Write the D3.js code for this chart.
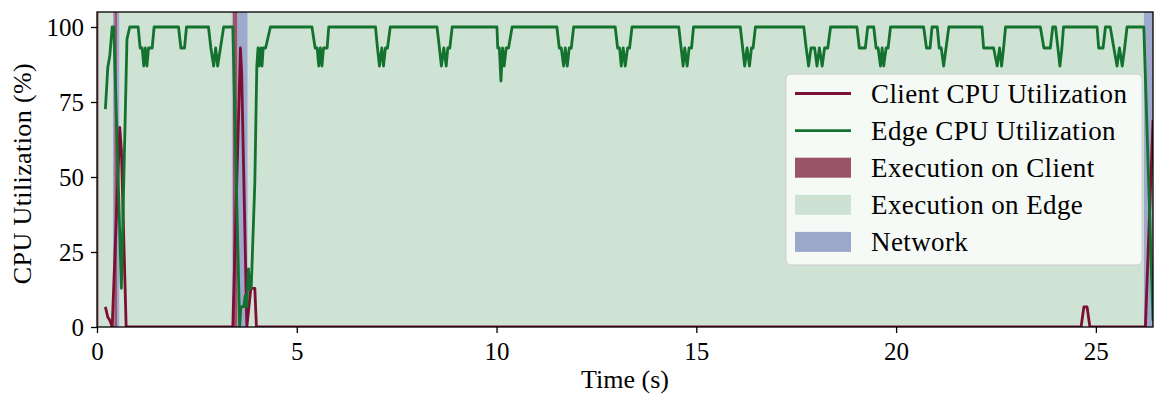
<!DOCTYPE html>
<html>
<head>
<meta charset="utf-8">
<script src="https://cdn.jsdelivr.net/npm/d3@7"></script>
<style>
  body { margin: 0; background: #fff; }
  svg text { font-family: "Liberation Serif", "DejaVu Serif", serif; fill: #000; }
</style>
</head>
<body>
<div id="chart"></div>
<script>
// time in seconds, utilization in %
var clientCpu = [
    [0.21, 6.7], [0.27, 3.3], [0.33, 2], [0.38, 0], [0.57, 66.5], [0.61, 59], [0.73, 0],
    [3.40, 0], [3.59, 93], [3.62, 85], [3.75, 0], [3.85, 12.9], [3.95, 12.9], [3.99, 0],
    [24.63, 0], [24.70, 6.7], [24.78, 6.7], [24.85, 0], [26.24, 0], [26.43, 69]
];

var edgeCpu = [
    [0.21, 72.6], [0.27, 86.5], [0.32, 90.4], [0.38, 100], [0.42, 100], [0.61, 12.9], [0.75, 96], [0.82, 100],
    [1.03, 100], [1.08, 93], [1.13, 93], [1.17, 87], [1.21, 93], [1.25, 87], [1.29, 93], [1.38, 93], [1.43, 100],
    [2.04, 100], [2.10, 93], [2.19, 93], [2.24, 100],
    [2.79, 100], [2.85, 93], [2.92, 87], [2.97, 93], [3.02, 87], [3.09, 93], [3.17, 100],
    [3.40, 100], [3.57, 0], [3.60, 6.7], [3.67, 6.7], [3.71, 10.5], [3.75, 6.7], [3.79, 19.4], [3.82, 12.9],
    [3.86, 13], [3.95, 48], [4.00, 87], [4.03, 93], [4.06, 87], [4.10, 93], [4.13, 87], [4.16, 93], [4.22, 93], [4.34, 100],
    [5.38, 100], [5.46, 93], [5.51, 93], [5.55, 87], [5.59, 93], [5.63, 87], [5.67, 93], [5.76, 93], [5.80, 100],
    [6.97, 100], [7.02, 93], [7.07, 87], [7.13, 93], [7.17, 87], [7.22, 93], [7.27, 93], [7.34, 100],
    [8.51, 100], [8.57, 93], [8.62, 87], [8.68, 93], [8.74, 87], [8.78, 93], [8.83, 93], [8.89, 100],
    [10.01, 100], [10.03, 93], [10.07, 93], [10.11, 82], [10.15, 93], [10.19, 87], [10.24, 93], [10.30, 93], [10.39, 100],
    [11.51, 100], [11.57, 93], [11.62, 93], [11.68, 87], [11.72, 93], [11.77, 87], [11.82, 93], [11.87, 93], [11.93, 100],
    [12.97, 100], [13.03, 93], [13.08, 93], [13.12, 87], [13.17, 93], [13.22, 87], [13.28, 93], [13.33, 93], [13.39, 100],
    [14.56, 100], [14.62, 93], [14.67, 87], [14.71, 93], [14.77, 87], [14.82, 93], [14.88, 93], [14.93, 100],
    [16.10, 100], [16.16, 93], [16.21, 87], [16.27, 93], [16.33, 87], [16.38, 93], [16.42, 93], [16.48, 100],
    [17.69, 100], [17.75, 93], [17.81, 87], [17.87, 93], [17.96, 93], [18.02, 87], [18.08, 93], [18.15, 87],
    [18.21, 93], [18.29, 93], [18.36, 100],
    [19.02, 100], [19.08, 93], [19.23, 93], [19.29, 100],
    [19.44, 100], [19.50, 93], [19.55, 93], [19.61, 87], [19.65, 93], [19.69, 87], [19.75, 93], [19.80, 93], [19.86, 100],
    [20.69, 100], [20.76, 93], [20.85, 93], [20.90, 100],
    [21.03, 100], [21.08, 93], [21.13, 93], [21.19, 87], [21.25, 93], [21.32, 100],
    [22.15, 100], [22.19, 93], [22.44, 93], [22.53, 87], [22.59, 93], [22.64, 87], [22.69, 93], [22.74, 100],
    [23.61, 100], [23.70, 93], [23.86, 93], [23.92, 100], [23.99, 100], [24.05, 93], [24.10, 87], [24.15, 93], [24.19, 100],
    [25.03, 100], [25.07, 93], [25.18, 93], [25.24, 100], [25.36, 100], [25.45, 93], [25.53, 87], [25.59, 93],
    [25.66, 87], [25.72, 93], [25.78, 100],
    [26.20, 100], [26.43, 2]
];

// execution phases [start, end] in seconds
var clientSpans = [[0, 0.04], [0.43, 0.50], [3.40, 3.52]];
var networkSpans = [[0.40, 0.43], [0.50, 0.56], [3.37, 3.40], [3.52, 3.77], [26.20, 26.45]];
var edgeSpans = [[0.04, 0.40], [0.56, 3.37], [3.77, 26.20]];

var xTicks = [0, 5, 10, 15, 20, 25];
var yTicks = [0, 25, 50, 75, 100];

var legendItems = [
    { label: "Client CPU Utilization", kind: "line", color: "#7b1034" },
    { label: "Edge CPU Utilization", kind: "line", color: "#14722f" },
    { label: "Execution on Client", kind: "patch", color: "#9b5467" },
    { label: "Execution on Edge", kind: "patch", color: "#cde2d3" },
    { label: "Network", kind: "patch", color: "#9ba8ca" }
];

var svgWidth = 1154, svgHeight = 397;
var margin = { top: 12, right: 1, bottom: 70, left: 97 };
var width = svgWidth - margin.left - margin.right;
var height = svgHeight - margin.top - margin.bottom;

var svg = d3.select("#chart").append("svg")
    .attr("width", svgWidth)
    .attr("height", svgHeight);

var g = svg.append("g")
    .attr("transform", "translate(" + margin.left + "," + margin.top + ")");

var x = d3.scaleLinear().domain([0, 26.43]).range([0, width]);
var y = d3.scaleLinear().domain([0, 105]).range([height, 0]);

g.append("clipPath").attr("id", "plotclip")
    .append("rect").attr("width", width).attr("height", height);

var plot = g.append("g").attr("clip-path", "url(#plotclip)");

function drawSpans(spans, color) {
    plot.selectAll(null)
        .data(spans)
        .enter()
        .append("rect")
        .attr("x", function(d) { return x(d[0]); })
        .attr("width", function(d) { return x(d[1]) - x(d[0]); })
        .attr("y", 0)
        .attr("height", height)
        .attr("fill", color);
}

drawSpans(edgeSpans, "#cfe3d4");
drawSpans(clientSpans, "#9b5467");
drawSpans(networkSpans, "#9ea9cc");

var line = d3.line()
    .x(function(d) { return x(d[0]); })
    .y(function(d) { return y(d[1]); });

plot.append("path")
    .datum(clientCpu)
    .attr("d", line)
    .attr("fill", "none")
    .attr("stroke", "#7b1034")
    .attr("stroke-width", 2.8)
    .attr("stroke-linejoin", "round");

plot.append("path")
    .datum(edgeCpu)
    .attr("d", line)
    .attr("fill", "none")
    .attr("stroke", "#14722f")
    .attr("stroke-width", 2.8)
    .attr("stroke-linejoin", "round");

// axes
var xAxis = g.append("g")
    .attr("transform", "translate(0," + height + ")")
    .call(d3.axisBottom(x).tickValues(xTicks).tickSize(6).tickPadding(7).tickFormat(d3.format("d")));

var yAxis = g.append("g")
    .call(d3.axisLeft(y).tickValues(yTicks).tickSize(6).tickPadding(7).tickFormat(d3.format("d")));

[xAxis, yAxis].forEach(function(a) {
    a.select(".domain").remove();
    a.selectAll(".tick line").attr("stroke", "#000").attr("stroke-width", 1.3);
    a.selectAll(".tick text").style("font-size", "25px").attr("fill", "#000");
});
yAxis.selectAll(".tick text").attr("dy", "0.33em");
xAxis.selectAll(".tick text").attr("dy", "0.8em");

g.append("rect")
    .attr("width", width)
    .attr("height", height)
    .attr("fill", "none")
    .attr("stroke", "#000")
    .attr("stroke-width", 1.3);

g.append("text")
    .attr("text-anchor", "middle")
    .attr("x", width / 2)
    .attr("y", height + 61)
    .style("font-size", "26px")
    .text("Time (s)");

g.append("text")
    .attr("text-anchor", "middle")
    .attr("transform", "rotate(-90)")
    .attr("x", -height / 2 - 4)
    .attr("y", -66)
    .style("font-size", "26px")
    .style("letter-spacing", "0.4px")
    .text("CPU Utilization (%)");

// legend
var legend = g.append("g").attr("transform", "translate(" + (786 - margin.left) + "," + (74 - margin.top) + ")");

legend.append("rect")
    .attr("width", 356)
    .attr("height", 191)
    .attr("rx", 5)
    .attr("fill", "#fff")
    .attr("fill-opacity", 0.8)
    .attr("stroke", "#cccccc")
    .attr("stroke-width", 1);

var rows = legend.selectAll(".row")
    .data(legendItems)
    .enter()
    .append("g")
    .attr("class", "row")
    .attr("transform", function(d, i) { return "translate(0," + (19.5 + i * 37.1) + ")"; });

rows.filter(function(d) { return d.kind === "line"; })
    .append("line")
    .attr("x1", 9).attr("x2", 65)
    .attr("stroke", function(d) { return d.color; })
    .attr("stroke-width", 2.8);

rows.filter(function(d) { return d.kind === "patch"; })
    .append("rect")
    .attr("x", 9).attr("y", -10)
    .attr("width", 56).attr("height", 20)
    .attr("fill", function(d) { return d.color; });

rows.append("text")
    .attr("x", 85)
    .attr("dy", "0.34em")
    .style("font-size", "27px")
    .style("letter-spacing", "0.4px")
    .text(function(d) { return d.label; });
</script>
</body>
</html>
